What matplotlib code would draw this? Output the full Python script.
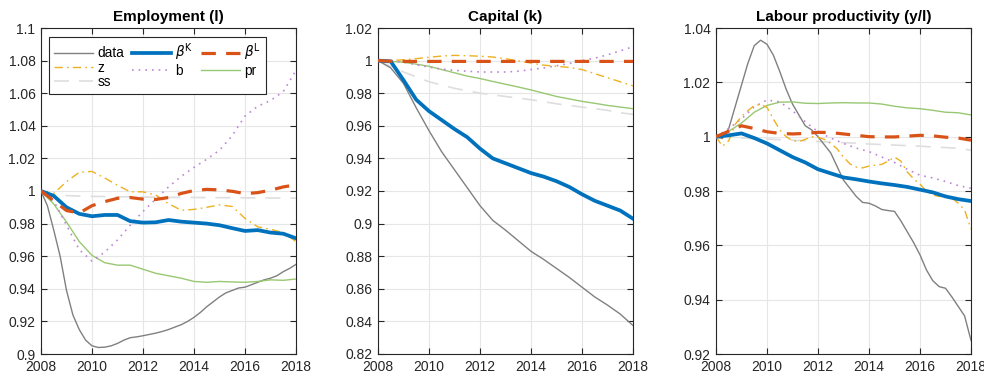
import numpy as np
import matplotlib
matplotlib.use("Agg")
import matplotlib.pyplot as plt
from matplotlib.ticker import FuncFormatter, MultipleLocator

plt.rcParams['font.family'] = ['Liberation Sans', 'DejaVu Sans']
plt.rcParams['mathtext.fontset'] = 'dejavusans'

# ---- time grids -------------------------------------------------------
t_half = 2008 + 0.5 * np.arange(21)    # semi-annual
t_q = 2008 + 0.25 * np.arange(41)      # quarterly

# ---- Employment (l) ---------------------------------------------------
emp_data = [1.000, 0.991, 0.976, 0.960, 0.939, 0.924, 0.915, 0.9085, 0.905, 0.904,
            0.9042, 0.905, 0.9065, 0.9085, 0.910, 0.9105, 0.9112, 0.912, 0.9128, 0.9138,
            0.915, 0.9165, 0.918, 0.920, 0.9225, 0.9255, 0.929, 0.932, 0.935, 0.9375,
            0.939, 0.9405, 0.941, 0.9425, 0.944, 0.9455, 0.9465, 0.948, 0.9505, 0.9525,
            0.955]
emp_bK = [1.000, 0.997, 0.990, 0.986, 0.9845, 0.9853, 0.9853, 0.9815, 0.9806, 0.9808,
          0.9822, 0.9812, 0.9806, 0.980, 0.979, 0.9772, 0.9755, 0.976, 0.9745, 0.9738,
          0.971]
emp_bL = [1.000, 0.994, 0.988, 0.9865, 0.991, 0.9935, 0.9955, 0.996, 0.995, 0.9948,
          0.996, 0.9985, 1.0003, 1.001, 1.0007, 0.9998, 0.9984, 0.999, 1.0005, 1.0025,
          1.0038]
emp_z = [1.000, 0.9985, 1.0057, 1.0115, 1.012, 1.008, 1.0035, 0.9995, 0.9995, 0.9975,
         0.9922, 0.9882, 0.9887, 0.990, 0.9915, 0.9905, 0.9832, 0.978, 0.9765, 0.9745,
         0.969]
emp_b = [1.000, 0.994, 0.979, 0.964, 0.957, 0.9625, 0.970, 0.979, 0.9875, 0.995,
         1.0025, 1.009, 1.0145, 1.0195, 1.025, 1.034, 1.046, 1.052, 1.0555, 1.061,
         1.074]
emp_pr = [1.000, 0.992, 0.981, 0.969, 0.9605, 0.956, 0.9545, 0.9545, 0.952, 0.9495,
          0.948, 0.9465, 0.9445, 0.944, 0.9445, 0.9442, 0.944, 0.9445, 0.9455, 0.9452,
          0.946]
emp_ss = [1.000, 0.9978, 0.9972, 0.9969, 0.9967, 0.9966, 0.9965, 0.9964, 0.9963, 0.9962,
          0.9961, 0.9961, 0.996, 0.996, 0.9959, 0.9959, 0.9958, 0.9958, 0.9957, 0.9957,
          0.9956]

# ---- Capital (k) ------------------------------------------------------
cap_data = [1.000, 0.9955, 0.986, 0.971, 0.957, 0.944, 0.933, 0.922, 0.911, 0.902,
            0.896, 0.8895, 0.883, 0.878, 0.8725, 0.867, 0.861, 0.855, 0.850, 0.8445,
            0.8375]
cap_bK = [1.000, 0.9995, 0.988, 0.976, 0.969, 0.9635, 0.958, 0.953, 0.946, 0.940,
          0.937, 0.934, 0.931, 0.9288, 0.926, 0.9225, 0.918, 0.914, 0.911, 0.908,
          0.903]
cap_bL = [1.000, 0.9996, 0.9995, 0.9995, 0.9995, 0.9995, 0.9995, 0.9995, 0.9995, 0.9995,
          0.9995, 0.9995, 0.9995, 0.9995, 0.9995, 0.9995, 0.9995, 0.9995, 0.9995, 0.9995,
          0.9995]
cap_z = [1.000, 1.000, 1.0005, 1.0012, 1.002, 1.0028, 1.0032, 1.003, 1.0027, 1.0022,
         1.0012, 0.9998, 0.9985, 0.9972, 0.9965, 0.9958, 0.9945, 0.992, 0.9895, 0.987,
         0.9845]
cap_b = [1.000, 1.000, 0.999, 0.9975, 0.996, 0.9948, 0.994, 0.9935, 0.993, 0.993,
         0.993, 0.9935, 0.9945, 0.9955, 0.9968, 0.9982, 1.000, 1.0015, 1.0035, 1.006,
         1.0085]
cap_pr = [1.000, 0.9995, 0.999, 0.9978, 0.9965, 0.9945, 0.9925, 0.9905, 0.989, 0.9872,
          0.9855, 0.9838, 0.982, 0.980, 0.978, 0.9765, 0.975, 0.9738, 0.9725, 0.9715,
          0.9705]
cap_ss = [1.000, 0.9965, 0.993, 0.990, 0.987, 0.985, 0.983, 0.9815, 0.980, 0.979,
          0.978, 0.977, 0.976, 0.9748, 0.9735, 0.9725, 0.9715, 0.9705, 0.9695, 0.968,
          0.967]

# ---- Labour productivity (y/l) ----------------------------------------
prod_data = [1.000, 0.9993, 1.003, 1.011, 1.019, 1.027, 1.0335, 1.0355, 1.034, 1.030,
             1.024, 1.0175, 1.012, 1.008, 1.004, 1.0025, 1.000, 0.997, 0.994, 0.989,
             0.984, 0.981, 0.978, 0.9758, 0.9755, 0.9745, 0.9732, 0.9728, 0.9725, 0.969,
             0.965, 0.961, 0.9565, 0.951, 0.947, 0.9448, 0.9442, 0.941, 0.9375, 0.934,
             0.925]
prod_bK = [1.000, 1.0005, 1.0012, 0.9995, 0.9975, 0.995, 0.9925, 0.9905, 0.988, 0.9865,
           0.985, 0.9843, 0.9835, 0.9828, 0.9822, 0.9815, 0.9805, 0.9795, 0.978, 0.977,
           0.9763]
prod_bL = [1.000, 1.002, 1.004, 1.003, 1.0018, 1.0012, 1.001, 1.0012, 1.0016, 1.0015,
           1.001, 1.0005, 1.000, 0.9999, 0.9999, 1.0002, 1.0005, 1.0003, 0.9998, 0.9995,
           0.9987]
prod_z = [1.000, 0.9965, 0.9985, 1.0045, 1.0075, 1.0095, 1.0115, 1.0118, 1.0108, 1.0065,
          1.0025, 1.000, 0.9985, 0.9982, 0.999, 1.000, 0.9998, 0.999, 0.9975, 0.9955,
          0.9925, 0.990, 0.9888, 0.9885, 0.9892, 0.9895, 0.9898, 0.991, 0.9925, 0.991,
          0.987, 0.9845, 0.9825, 0.980, 0.9785, 0.978, 0.978, 0.9775, 0.9755, 0.973,
          0.966]
prod_b = [1.000, 1.003, 1.0065, 1.011, 1.0135, 1.0128, 1.0095, 1.0055, 1.0018, 0.9995,
          0.9975, 0.9958, 0.9945, 0.9925, 0.9905, 0.988, 0.9858, 0.9848, 0.9835, 0.982,
          0.981]
prod_pr = [1.000, 1.002, 1.005, 1.009, 1.0115, 1.0127, 1.0128, 1.0123, 1.0122, 1.0124,
           1.0125, 1.0124, 1.0124, 1.012, 1.0112, 1.0106, 1.0103, 1.0097, 1.009, 1.0088,
           1.008]
prod_ss = [1.000, 0.9998, 0.9995, 0.9993, 0.9991, 0.9989, 0.9987, 0.9985, 0.9982, 0.998,
           0.9978, 0.9976, 0.9973, 0.9971, 0.9969, 0.9967, 0.9965, 0.9962, 0.996, 0.9957,
           0.995]

titles = ['Employment (l)', 'Capital (k)', 'Labour productivity (y/l)']
ylims = [(0.9, 1.1), (0.82, 1.02), (0.92, 1.04)]
x_ticks = [2008, 2010, 2012, 2014, 2016, 2018]

panels = [
    dict(data=(t_q, emp_data), bK=(t_half, emp_bK), bL=(t_half, emp_bL), z=(t_half, emp_z),
         b=(t_half, emp_b), pr=(t_half, emp_pr), ss=(t_half, emp_ss)),
    dict(data=(t_half, cap_data), bK=(t_half, cap_bK), bL=(t_half, cap_bL), z=(t_half, cap_z),
         b=(t_half, cap_b), pr=(t_half, cap_pr), ss=(t_half, cap_ss)),
    dict(data=(t_q, prod_data), bK=(t_half, prod_bK), bL=(t_half, prod_bL), z=(t_q, prod_z),
         b=(t_half, prod_b), pr=(t_half, prod_pr), ss=(t_half, prod_ss)),
]

styles = {
    'data': dict(color='#808080', lw=1.0, ls='-', label='data', zorder=3),
    'bK': dict(color='#0072BD', lw=2.7, ls='-', label=r'$\beta^{\mathrm{K}}$', zorder=5),
    'bL': dict(color='#D95319', lw=2.3, dashes=(4.5, 3.2), label=r'$\beta^{\mathrm{L}}$', zorder=6),
    'z': dict(color='#EDB120', lw=1.0, dashes=(6, 3, 1.2, 3), label='z', zorder=4),
    'b': dict(color='#BE86D6', lw=1.2, dashes=(1, 3), label='b', zorder=4),
    'pr': dict(color='#98C872', lw=1.0, ls='-', label='pr', zorder=4),
    'ss': dict(color='#DEDEDE', lw=1.2, dashes=(9, 6), label='ss', zorder=2),
}
draw_order = ['ss', 'data', 'pr', 'b', 'z', 'bK', 'bL']
legend_order = ['data', 'z', 'ss', 'bK', 'b', 'bL', 'pr']

fig = plt.figure(figsize=(9.84, 3.74), dpi=100)
lefts = [41, 378, 716]
W, H = 984, 374
for i in range(3):
    ax = fig.add_axes([lefts[i] / W, 1 - 354 / H, 255 / W, 326 / H])
    handles = {}
    for key in draw_order:
        x, y = panels[i][key]
        handles[key], = ax.plot(x, y, **styles[key])
    ax.set_xlim(2008, 2018)
    ax.set_ylim(*ylims[i])
    ax.set_xticks(x_ticks)
    ax.yaxis.set_major_locator(MultipleLocator(0.02))
    ax.yaxis.set_major_formatter(FuncFormatter(lambda v, p: f"{round(v, 4):g}"))
    ax.grid(True, color='#E6E6E6', lw=0.8, zorder=0)
    ax.set_axisbelow(True)
    ax.tick_params(direction='in', top=True, right=True, length=4, width=0.8,
                   colors='#262626', labelsize=10)
    ax.tick_params(axis='x', pad=4.5)
    ax.tick_params(axis='y', pad=4)
    for s in ax.spines.values():
        s.set_color('#262626')
        s.set_linewidth(0.8)
    ax.set_title(titles[i], fontsize=11, fontweight='bold', pad=5, color='black')

    if i == 0:
        leg = ax.legend([handles[k] for k in legend_order],
                        [styles[k]['label'] for k in legend_order],
                        ncol=3, loc='upper left', bbox_to_anchor=(0.031, 0.972),
                        borderaxespad=0.0,
                        fontsize=9.8, handlelength=2.9, handletextpad=0.3,
                        columnspacing=0.55, labelspacing=0.02, borderpad=0.35,
                        frameon=True, fancybox=False, framealpha=1,
                        edgecolor='#262626')
        leg.get_frame().set_linewidth(0.8)

fig.savefig('out.png', dpi=100)
